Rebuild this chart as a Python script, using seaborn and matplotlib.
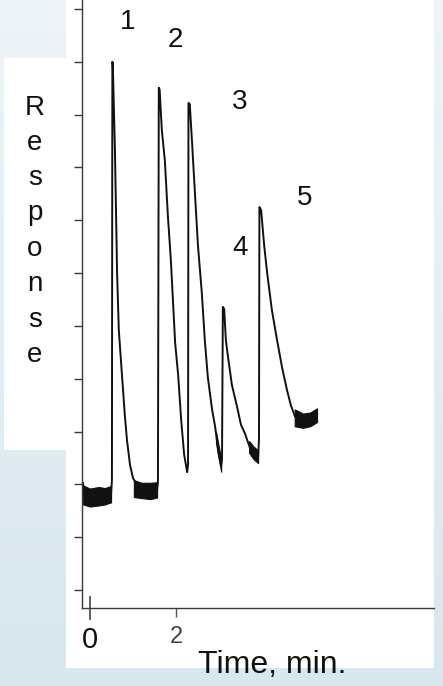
import matplotlib.pyplot as plt
import matplotlib.lines as mlines
import seaborn as sns
import numpy as np
import pandas as pd
from matplotlib.colors import LinearSegmentedColormap
from matplotlib.patches import Rectangle

# Chromatogram trace (time in min, response in tick units)
time_min = [-0.163, -0.14, 0.00, 0.12, 0.23, 0.36, 0.49, 0.51, 0.52, 0.53,
            0.58, 0.63, 0.67, 0.74, 0.81, 0.86, 0.93, 1.00, 1.09, 1.22,
            1.35, 1.47, 1.56, 1.58, 1.60, 1.62, 1.67, 1.74, 1.81, 1.88,
            1.98, 2.05, 2.12, 2.19, 2.26, 2.28, 2.29, 2.32, 2.37, 2.44,
            2.51, 2.60, 2.67, 2.74, 2.84, 2.91, 2.98, 3.05, 3.07, 3.09,
            3.12, 3.16, 3.21, 3.30, 3.42, 3.51, 3.60, 3.72, 3.81, 3.91,
            3.93, 3.94, 3.98, 4.05, 4.12, 4.23, 4.35, 4.47, 4.58, 4.67,
            4.77, 4.88, 5.02, 5.16, 5.28]
response = [2.03, 1.86, 1.76, 1.79, 1.80, 1.78, 1.82, 2.08, 10.00, 9.96,
            8.33, 6.00, 4.92, 4.11, 3.31, 2.84, 2.37, 2.12, 1.99, 1.93,
            1.91, 1.90, 1.89, 2.05, 9.51, 9.47, 8.71, 8.14, 7.10, 6.25,
            4.68, 4.07, 3.22, 2.56, 2.23, 2.37, 9.22, 9.20, 8.52, 7.52,
            6.53, 5.63, 4.73, 4.03, 3.41, 3.09, 2.65, 2.35, 2.47, 5.36,
            5.32, 4.73, 4.41, 3.88, 3.47, 3.13, 2.97, 2.69, 2.61, 2.52,
            2.85, 7.25, 7.19, 6.53, 6.00, 5.30, 4.73, 4.20, 3.79, 3.50,
            3.28, 3.22, 3.20, 3.22, 3.31]

# noise envelopes on the flat parts of the trace (time, low, high)
band_time = [[-0.16, 0.00, 0.20, 0.35, 0.49],
             [1.02, 1.20, 1.40, 1.56],
             [2.93, 2.98, 3.05],
             [3.70, 3.80, 3.91],
             [4.76, 4.95, 5.12, 5.28]]
band_low = [[1.62, 1.58, 1.60, 1.62, 1.66],
            [1.76, 1.74, 1.72, 1.75],
            [2.80, 2.54, 2.24],
            [2.60, 2.48, 2.40],
            [3.10, 3.07, 3.10, 3.18]]
band_high = [[1.98, 1.92, 1.95, 1.93, 1.97],
             [2.08, 2.03, 2.03, 2.04],
             [3.00, 2.78, 2.48],
             [2.82, 2.72, 2.64],
             [3.42, 3.34, 3.36, 3.44]]

peak_labels = ["1", "2", "3", "4", "5"]
label_time = [0.88, 1.98, 3.47, 3.49, 4.98]
label_resp = [10.76, 10.42, 9.24, 6.48, 7.42]

x_ticks = [0, 2]
x_tick_labels = ["0", "2"]
y_ticks = list(range(12))
y_label = "Response"
x_label = "Time, min."

sns.set_theme(style="ticks")
plt.rcParams['font.family'] = ['Liberation Sans', 'DejaVu Sans']

W, H = 443, 686
fig = plt.figure(figsize=(W / 100, H / 100), dpi=100)

# slide-like background: pale blue gradient with white panels
bg = fig.add_axes([0, 0, 1, 1], zorder=-10)
cmap = LinearSegmentedColormap.from_list("bg", ["#eef4f8", "#d9e7ee"])
bg.imshow(np.linspace(0, 1, 256)[:, None], cmap=cmap, aspect="auto",
          extent=[0, 1, 0, 1])
bg.add_patch(Rectangle((66 / W, (H - 668) / H), (434 - 66) / W, 668 / H,
                       facecolor="white", edgecolor="none"))
bg.add_patch(Rectangle((4 / W, (H - 450) / H), 62 / W, (450 - 58) / H,
                       facecolor="white", edgecolor="none"))
bg.set_xlim(0, 1)
bg.set_ylim(0, 1)
bg.axis("off")

ax = fig.add_axes([82 / W, (H - 608) / H, (434 - 82) / W, 608 / H])
ax.patch.set_alpha(0)

df = pd.DataFrame({"time": time_min, "response": response})
sns.lineplot(data=df, x="time", y="response", sort=False, estimator=None,
             color="#111111", linewidth=1.4, ax=ax)
for bt, lo, hi in zip(band_time, band_low, band_high):
    ax.fill_between(bt, lo, hi, color="#111111", linewidth=0.8,
                    edgecolor="#111111")

for lab, t, r in zip(peak_labels, label_time, label_resp):
    ax.text(t, r, lab, ha="center", va="center", fontsize=20, color="#111111")

ax.set_xlim(-0.186, 8.0)
ax.set_ylim(-0.341, 11.17)
ax.set_xlabel("")
ax.set_ylabel("")
sns.despine(ax=ax)
for side in ["left", "bottom"]:
    ax.spines[side].set_color("#3a3a3a")
    ax.spines[side].set_linewidth(1.0)

ax.set_yticks(y_ticks)
ax.set_yticklabels([])
ax.tick_params(axis="y", direction="out", length=5.8, width=1, color="#3a3a3a")

ax.set_xticks(x_ticks)
ax.set_xticklabels(x_tick_labels)
ax.tick_params(axis="x", direction="inout", length=17, width=1.3,
               color="#555555", labelsize=21, pad=4.5, labelcolor="#111111")
tick2 = ax.xaxis.get_major_ticks()[1]
tick2.tick1line.set_marker(mlines.TICKDOWN)
tick2.tick1line.set_markersize(6.5)
tick2.tick1line.set_markeredgewidth(1.0)
tick2.label1.set_fontsize(17)
tick2.label1.set_color("#444444")

fig.text(272 / W, 1 - 665 / H, x_label, ha="center", va="center",
         fontsize=23, color="#111111")

letter_y = [108, 143, 178, 213, 249, 284, 320, 355]
for ch, y in zip(y_label, letter_y):
    fig.text(35 / W, 1 - y / H, ch, ha="center", va="center",
             fontsize=20, color="#111111")

fig.savefig("out.png", dpi=100)
